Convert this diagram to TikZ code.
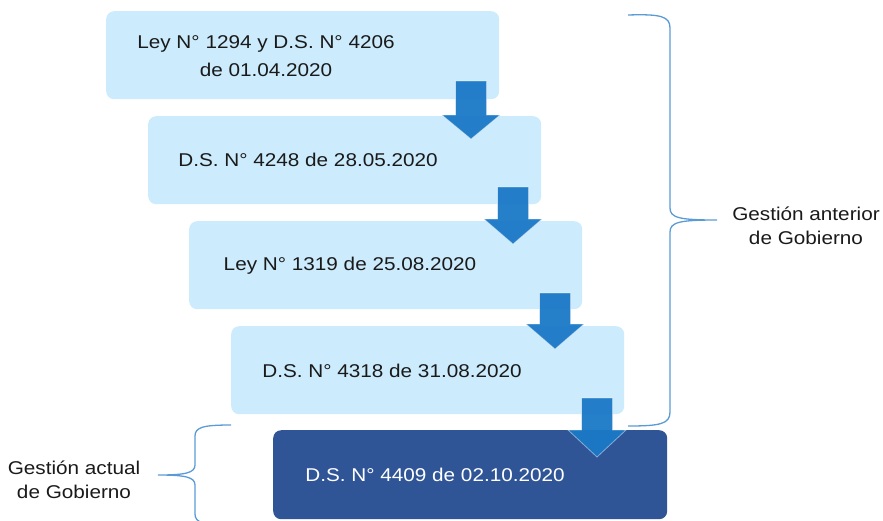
\documentclass[tikz,border=0pt]{standalone}
\usepackage{fontspec}
\setmainfont[FakeStretch=1.12]{Liberation Sans}
\definecolor{boxlight}{HTML}{CCEBFC}
\definecolor{boxdark}{HTML}{2F5597}
\definecolor{arrowblue}{HTML}{1A78C6}
\definecolor{bracecol}{HTML}{5B9BD5}
\definecolor{txt}{HTML}{1A1A1A}
\newcommand{\blkarrow}[4]{%
  \fill[arrowblue,opacity=0.95] (#1-15.5,#2) -- (#1+15.5,#2) -- (#1+15.5,#3) -- (#1+29,#3) -- (#1,#4) -- (#1-29,#3) -- (#1-15.5,#3) -- cycle;
  \draw[white,opacity=0.45,line width=0.8pt] (#1-15.5,#2) -- (#1+15.5,#2) -- (#1+15.5,#3) -- (#1+29,#3) -- (#1,#4) -- (#1-29,#3) -- (#1-15.5,#3) -- cycle;}
\begin{document}
\begin{tikzpicture}[x=1pt,y=-1pt,
  lbox/.style={fill=boxlight,rounded corners=8pt,draw=none,minimum width=393pt,minimum height=88pt,inner sep=0pt,anchor=north west},
  dbox/.style={fill=boxdark,rounded corners=8pt,draw=none,minimum width=394pt,minimum height=89pt,inner sep=0pt,anchor=north west},
  btext/.style={font=\fontsize{18.5}{24}\selectfont,text=txt,align=center,inner sep=0pt},
  brace/.style={draw=bracecol,line width=1.3pt}]
\useasboundingbox (0,0) rectangle (883,520);
\node[lbox] (b1) at (106,11) {};
\node[lbox] (b2) at (148,116) {};
\node[lbox] (b3) at (189,221) {};
\node[lbox] (b4) at (231,326) {};
\node[dbox] (b5) at (273,430) {};
\node[btext,font=\fontsize{18.5}{28}\selectfont] (t1) at (266,56) {Ley N° 1294 y D.S. N° 4206\\de 01.04.2020};
\node[btext] (t2) at (308,160) {D.S. N° 4248 de 28.05.2020};
\node[btext] (t3) at (350,266) {Ley N° 1319 de 25.08.2020};
\node[btext] (t4) at (392,371) {D.S. N° 4318 de 31.08.2020};
\node[btext,text=white] (t5) at (435,475) {D.S. N° 4409 de 02.10.2020};
\blkarrow{471}{81}{115}{139}
\blkarrow{513}{187}{219}{244}
\blkarrow{555}{293}{324}{349}
\blkarrow{597}{398}{430}{457}
% right brace
\draw[brace] (628,15) .. controls (660,14) and (670,16) .. (670,28) -- (670,208) .. controls (670,218) and (680,220) .. (717,220) .. controls (680,220) and (670,222) .. (670,232) -- (670,412) .. controls (670,424) and (660,426) .. (628,426);
\node[btext] (g1) at (806,226) {Gestión anterior\\de Gobierno};
% left brace
\draw[brace] (231,425) .. controls (204,425) and (195,427) .. (195,436) -- (195,465) .. controls (195,473) and (185,475) .. (158,475) .. controls (185,475) and (195,477) .. (195,485) -- (195,514) .. controls (195,523) and (204,525) .. (231,525);
\node[btext] (g2) at (74,480) {Gestión actual\\de Gobierno};
\end{tikzpicture}
\end{document}
